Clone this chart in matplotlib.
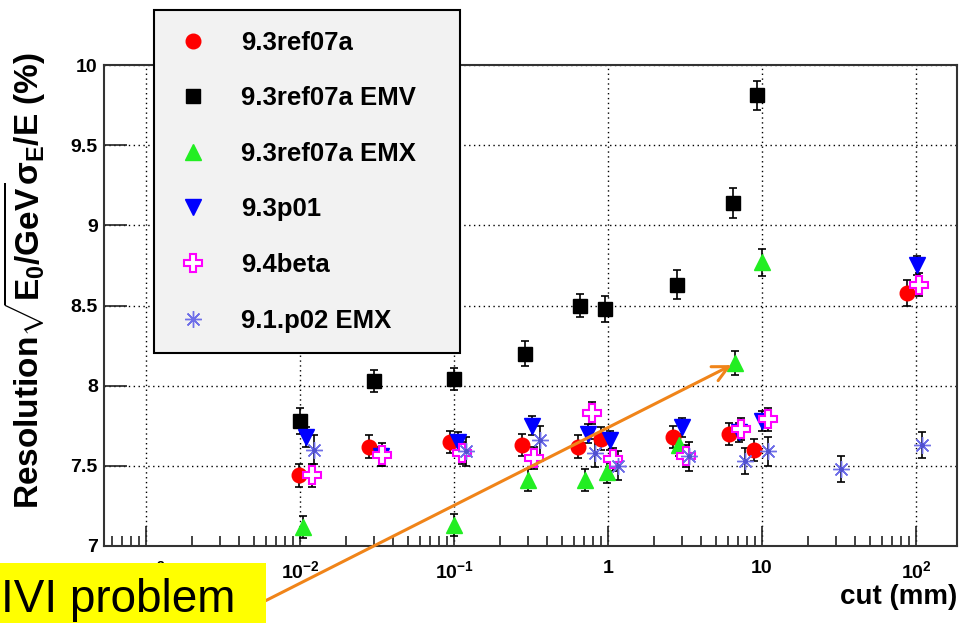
import matplotlib
matplotlib.use('Agg')
import matplotlib.pyplot as plt
from matplotlib.lines import Line2D
from matplotlib.patches import Rectangle
from matplotlib.ticker import FixedLocator, FixedFormatter, LogLocator, NullFormatter

plt.rcParams['font.family'] = ['Liberation Sans', 'DejaVu Sans']
plt.rcParams['mathtext.fontset'] = 'custom'
plt.rcParams['mathtext.rm'] = 'Liberation Sans:bold'
plt.rcParams['mathtext.it'] = 'Liberation Sans:bold'
plt.rcParams['mathtext.bf'] = 'Liberation Sans:bold'
plt.rcParams['mathtext.sf'] = 'Liberation Sans:bold'

# --- data ---
ref07a_x = [0.0099, 0.028, 0.094, 0.276, 0.64, 0.90, 2.63, 6.1, 8.9, 87]
ref07a_y = [7.44, 7.62, 7.65, 7.63, 7.62, 7.67, 7.68, 7.70, 7.60, 8.58]
ref07a_e = [0.07, 0.07, 0.07, 0.07, 0.07, 0.07, 0.07, 0.07, 0.07, 0.08]

emv_x = [0.01, 0.03, 0.1, 0.29, 0.66, 0.95, 2.8, 6.5, 9.3]
emv_y = [7.78, 8.03, 8.04, 8.20, 8.50, 8.48, 8.63, 9.14, 9.81]
emv_e = [0.08, 0.07, 0.07, 0.08, 0.07, 0.08, 0.09, 0.095, 0.09]

emx_x = [0.0105, 0.1, 0.3, 0.71, 0.98, 2.9, 6.7, 9.95]
emx_y = [7.12, 7.13, 7.41, 7.41, 7.46, 7.63, 8.14, 8.77]
emx_e = [0.07, 0.07, 0.07, 0.07, 0.07, 0.07, 0.075, 0.085]

p01_x = [0.011, 0.0335, 0.106, 0.32, 0.74, 1.03, 3.0, 7.1, 10.0, 101]
p01_y = [7.68, 7.56, 7.65, 7.75, 7.70, 7.66, 7.74, 7.71, 7.78, 8.75]
p01_e = [0.06, 0.06, 0.06, 0.06, 0.06, 0.06, 0.06, 0.06, 0.06, 0.06]

beta_x = [0.0119, 0.034, 0.112, 0.33, 0.79, 1.07, 3.2, 7.3, 11, 104]
beta_y = [7.44, 7.57, 7.58, 7.55, 7.83, 7.54, 7.56, 7.73, 7.79, 8.63]
beta_e = [0.07, 0.07, 0.07, 0.07, 0.07, 0.07, 0.07, 0.07, 0.07, 0.07]

p02_x = [0.0123, 0.12, 0.36, 0.82, 1.16, 3.35, 7.8, 11, 32.6, 110]
p02_y = [7.60, 7.59, 7.66, 7.58, 7.50, 7.56, 7.53, 7.59, 7.48, 7.63]
p02_e = [0.09, 0.09, 0.09, 0.09, 0.09, 0.09, 0.08, 0.09, 0.08, 0.08]

labels = ['9.3ref07a', '9.3ref07a EMV', '9.3ref07a EMX', '9.3p01', '9.4beta', '9.1.p02 EMX']

xtick_vals = [1e-3, 1e-2, 1e-1, 1, 10, 100]
xtick_labels = [r'$10^{-3}$', r'$10^{-2}$', r'$10^{-1}$', '1', '10', r'$10^{2}$']
ytick_vals = [7, 7.5, 8, 8.5, 9, 9.5, 10]
ytick_labels = ['7', '7.5', '8', '8.5', '9', '9.5', '10']

# marker styles
styles = [
    dict(marker='o', ms=10.5, mfc='#ff0000', mec='#ff0000'),
    dict(marker='s', ms=10.5, mfc='black', mec='black'),
    dict(marker='^', ms=11, mfc='#22ee22', mec='#22ee22'),
    dict(marker='v', ms=11, mfc='#0000ff', mec='#0000ff'),
    dict(marker='P', ms=12.5, mfc='white', mec='#ff00ff', mew=1.5),
    dict(marker=(8, 2, 0), ms=12, mfc='#6f6fe8', mec='#6f6fe8', mew=1.0),
]
series = [
    (ref07a_x, ref07a_y, ref07a_e),
    (emv_x, emv_y, emv_e),
    (emx_x, emx_y, emx_e),
    (p01_x, p01_y, p01_e),
    (beta_x, beta_y, beta_e),
    (p02_x, p02_y, p02_e),
]

fig = plt.figure(figsize=(9.61, 6.23), dpi=100)
ax = fig.add_axes([104/961, 1 - 546/623, 853/961, 481/623])

for (xs, ys, es), st in zip(series, styles):
    ax.errorbar(xs, ys, yerr=es, fmt='none', ecolor='black', elinewidth=1.2,
                capsize=3.2, capthick=1.2, zorder=3)
    ax.plot(xs, ys, ls='none', zorder=4, **st)
# center dot of the asterisks
ax.plot(p02_x, p02_y, ls='none', marker='o', ms=2.5, color='#5050d0', zorder=5)

ax.set_xscale('log')
ax.set_xlim(5.33e-4, 184.5)
ax.set_ylim(7, 10)

ax.xaxis.set_major_locator(FixedLocator(xtick_vals))
ax.xaxis.set_major_formatter(FixedFormatter(xtick_labels))
ax.xaxis.set_minor_locator(LogLocator(base=10, subs=range(2, 10), numticks=20))
ax.xaxis.set_minor_formatter(NullFormatter())
ax.yaxis.set_major_locator(FixedLocator(ytick_vals))
ax.yaxis.set_major_formatter(FixedFormatter(ytick_labels))

ax.tick_params(axis='both', which='both', direction='in', color='#222222', width=1.2)
ax.tick_params(axis='y', which='major', length=16.5, pad=4.5, labelsize=14)
ax.tick_params(axis='x', which='major', length=14.4, pad=10, labelsize=14)
ax.tick_params(axis='x', which='minor', length=7.2)
for lab in ax.get_xticklabels() + ax.get_yticklabels():
    lab.set_fontweight('bold')

ax.grid(True, which='major', ls=(0, (1, 2.5)), color='black', lw=1.0)
ax.set_axisbelow(True)
for sp in ax.spines.values():
    sp.set_color('#333333')
    sp.set_linewidth(1.5)

ax.set_xlabel('cut (mm)', fontsize=20, fontweight='bold', ha='right')
ax.xaxis.set_label_coords(1.0, -0.078)
ax.set_ylabel(r'Resolution$\sqrt{E_0/GeV}\sigma_E/E$ (%)', fontsize=24, fontweight='bold')
ax.yaxis.set_label_coords(-0.066, 0.551)

# legend (markers only, as in ROOT)
handles = [Line2D([], [], ls='none', **st) for st in styles]
fig.legend(handles, labels, loc='upper left',
           bbox_to_anchor=(154/961, 1 - 350/623, 306/961, 340/623), mode='expand',
           borderaxespad=0, fancybox=False, framealpha=1, facecolor='#f2f2f2',
           edgecolor='black', prop=dict(size=18.5, weight='bold'),
           labelspacing=1.23, borderpad=0.8, handlelength=1.43, handletextpad=1.15)
fig.legends[0].get_frame().set_linewidth(1.5)

# orange arrow pointing to the EMX point at 6.7 mm
ax.annotate('', xy=(emx_x[6], emx_y[6]), xycoords='data',
            xytext=(265/961, 1 - 601/623), textcoords='figure fraction',
            arrowprops=dict(arrowstyle='->', color='#f08419', lw=2.2,
                            mutation_scale=28, shrinkA=0, shrinkB=3),
            annotation_clip=False, zorder=10)

# yellow label box
fig.add_artist(Rectangle((0, 0), 266/961, (623 - 563)/623, transform=fig.transFigure,
                         facecolor='#ffff00', edgecolor='none', zorder=5))
fig.text(1/961, 1 - 612/623, 'IVI problem', fontsize=33, color='black',
         va='baseline', ha='left', zorder=6)

fig.savefig('out.png', dpi=100)
